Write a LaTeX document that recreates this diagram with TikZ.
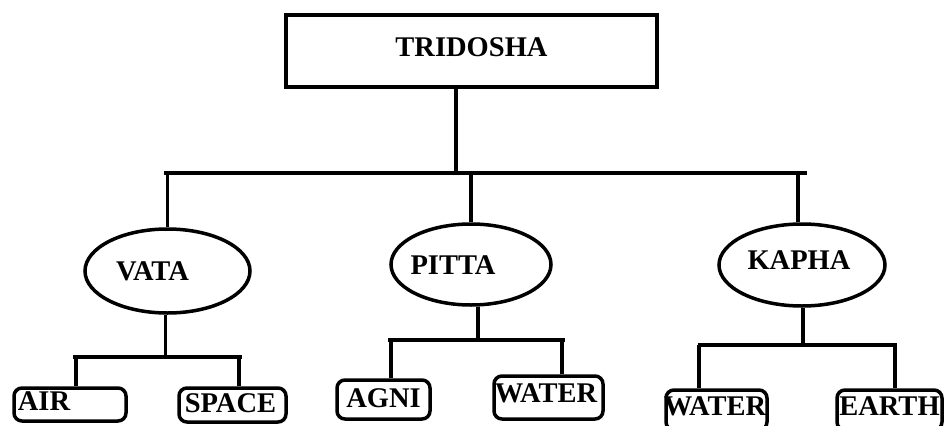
\documentclass[tikz,border=0pt]{standalone}
\usepackage{fontspec}
\setmainfont{Liberation Serif}
\usetikzlibrary{shapes.geometric}

\tikzset{
	tag/.style={font=\bfseries\fontsize{28.5}{32}\selectfont, inner sep=0pt},
	head/.style={draw, line width=3.5pt, rectangle, minimum width=371pt, minimum height=72pt, inner sep=0pt},
	dosha/.style={draw, line width=3.5pt, ellipse, inner sep=0pt},
	leaf/.style={draw, line width=3.5pt, rectangle, rounded corners=8pt, inner sep=0pt},
	link/.style={line width=3.5pt}
}

\begin{document}
\begin{tikzpicture}[x=1pt,y=-1pt]
	\useasboundingbox (0,0) rectangle (946,426);
	
	%Top box
	\node[head, label={[tag, yshift=4pt]center:TRIDOSHA}] (tri) at (471.5,51) {};
	
	%Three doshas
	\node[dosha, minimum width=165pt, minimum height=84pt, label={[tag, xshift=-15pt]center:VATA}] (vata) at (167.5,271) {};
	\node[dosha, minimum width=160pt, minimum height=81pt, label={[tag, xshift=-18pt, yshift=-1pt]center:PITTA}] (pitta) at (471,264.5) {};
	\node[dosha, minimum width=166pt, minimum height=82pt, label={[tag, xshift=-3pt, yshift=5pt]center:KAPHA}] (kapha) at (802,265) {};
	
	%Elements
	\node[leaf, minimum width=112pt, minimum height=33pt, label={[tag, xshift=-26pt, yshift=3pt]center:AIR}] (air) at (70,404.5) {};
	\node[leaf, minimum width=107pt, minimum height=34pt, label={[tag, xshift=-2pt, yshift=1.5pt]center:SPACE}] (space) at (232.5,405) {};
	\node[leaf, minimum width=93pt, minimum height=39pt, label={[tag, yshift=1.5pt]center:AGNI}] (agni) at (383.5,399.5) {};
	\node[leaf, minimum width=109pt, minimum height=43pt, label={[tag, xshift=-2.5pt, yshift=4pt]center:WATER}] (wat1) at (548.5,397.5) {};
	\node[leaf, minimum width=101pt, minimum height=40pt, label={[tag, xshift=-1.5pt, yshift=3.5pt]center:WATER}] (wat2) at (716.5,410) {};
	\node[leaf, minimum width=105pt, minimum height=40pt, label={[tag, yshift=3.5pt]center:EARTH}] (earth) at (889.5,410) {};
	
	%Bus ends
	\coordinate (tl) at (164,173);
	\coordinate (tr) at (807,173);
	\coordinate (vl) at (73,357);
	\coordinate (vr) at (242,357);
	\coordinate (pl) at (388,340);
	\coordinate (pr) at (565,340);
	\coordinate (kl) at (698,345);
	\coordinate (kr) at (897,345);
	
	%Drawing top level
	\draw[link] ([xshift=-15.5pt]tri.south) -- ([xshift=-15.5pt]tri.south |- tl);
	\draw[link] (tl) -- (tr);
	\draw[link] (vata.north) -- (vata.north |- tl);
	\draw[link] (pitta.north) -- (pitta.north |- tl);
	\draw[link] ([xshift=-4pt]kapha.north) -- ([xshift=-4pt]kapha.north |- tl);
	
	%Drawing vata branch
	\draw[link] ([xshift=-2pt]vata.south) -- ([xshift=-2pt]vata.south |- vl);
	\draw[link] (vl) -- (vr);
	\draw[link] ([xshift=6pt]air.north) -- ([xshift=6pt]air.north |- vl);
	\draw[link] ([xshift=6.5pt]space.north) -- ([xshift=6.5pt]space.north |- vl);
	
	%Drawing pitta branch
	\draw[link] ([xshift=7pt]pitta.south) -- ([xshift=7pt]pitta.south |- pl);
	\draw[link] (pl) -- (pr);
	\draw[link] ([xshift=7.5pt]agni.north) -- ([xshift=7.5pt]agni.north |- pl);
	\draw[link] ([xshift=13.5pt]wat1.north) -- ([xshift=13.5pt]wat1.north |- pl);
	
	%Drawing kapha branch
	\draw[link] ([xshift=1pt]kapha.south) -- ([xshift=1pt]kapha.south |- kl);
	\draw[link] (kl) -- (kr);
	\draw[link] ([xshift=-17.5pt]wat2.north) -- ([xshift=-17.5pt]wat2.north |- kl);
	\draw[link] ([xshift=5.5pt]earth.north) -- ([xshift=5.5pt]earth.north |- kl);
	
\end{tikzpicture}
\end{document}
